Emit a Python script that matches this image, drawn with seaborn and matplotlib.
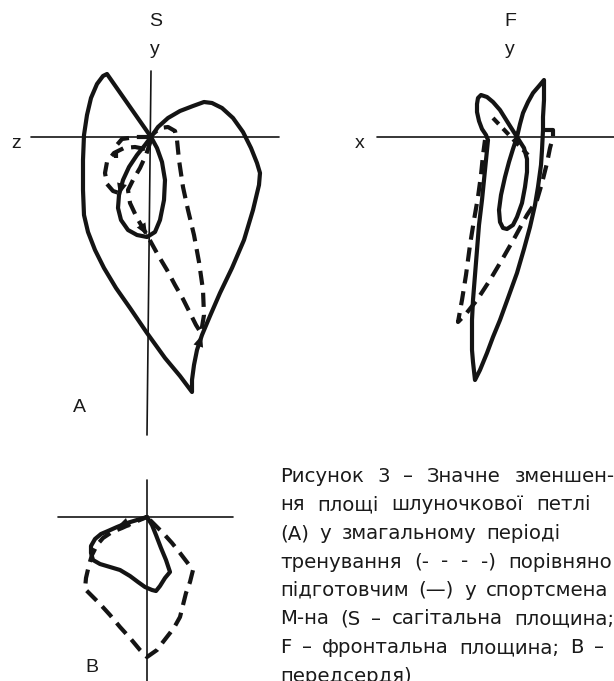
import numpy as np
import pandas as pd
import matplotlib
matplotlib.use("Agg")
import matplotlib.pyplot as plt
import seaborn as sns

# ---- loop data: (horizontal, vertical) components relative to each panel origin ----
# Sagittal plane (S), ventricular loop, preparatory period (solid)
s_solid_outer_x = [0, -44, -48, -54, -60, -64, -67, -68, -68, -67, -63, -56, -47, -35, -21, -4, 14, 29, 41,
                   41, 43, 46, 51, 59, 69, 81, 93, 102, 108, 109, 106, 100, 92, 82, 71, 61, 53, 42, 29, 17, 7, 0]
s_solid_outer_y = [0, 63, 61, 53, 39, 22, 2, -23, -53, -78, -95, -113, -131, -151, -171, -196, -221, -239, -255,
                   -243, -228, -213, -198, -179, -156, -131, -103, -73, -48, -36, -26, -11, 5, 19, 29, 34, 35, 31, 26, 19, 10, 0]
s_solid_inner_x = [0, -6, -14, -22, -28, -32, -33, -30, -23, -14, -4, 4, 9, 13, 14, 11, 6, 0]
s_solid_inner_y = [0, -8, -18, -30, -43, -58, -71, -83, -93, -98, -100, -95, -83, -63, -43, -25, -11, 0]

# Sagittal plane, competition period (dashed)
s_dash_a_x = [0, -15, -29, -35, -35]
s_dash_a_y = [0, 0, -2, -9, -21]
s_dash_b_x = [-6, -16, -27, -37, -44, -46, -44, -38, -29]
s_dash_b_y = [-12, -10, -11, -16, -25, -36, -47, -54, -57]
s_dash_c_x = [0, -5, -11, -18, -23, -21, -14, -4, 7, 16, 24, 32, 39, 45, 50,
              53, 52, 48, 43, 37, 32, 28, 26, 24, 17, 9, 2]
s_dash_c_y = [-3, -18, -31, -43, -53, -66, -81, -98, -118, -133, -148, -162, -176, -188, -196,
              -178, -153, -125, -98, -73, -50, -23, -3, 6, 10, 9, 3]

# Frontal plane (F), preparatory period (solid)
f_solid_outer_x = [0, -7, -17, -24, -30, -36, -39, -40, -40, -38, -35, -31, -29, -31, -33, -35, -38, -40, -42, -44,
                   -45, -45, -45, -44, -42, -37, -30, -24, -17, -9, 0, 7, 13, 18, 21, 24, 25, 26, 26, 27, 27,
                   22, 16, 11, 6, 3, 0]
f_solid_outer_y = [0, 11, 27, 35, 40, 42, 39, 33, 25, 16, 8, 2, -3, -23, -43, -63, -88, -113, -138, -163,
                   -183, -198, -213, -225, -243, -233, -216, -200, -183, -161, -136, -112, -90, -68, -50, -28, -13, 7, 20, 37, 57,
                   51, 44, 35, 24, 13, 0]
f_solid_inner_x = [0, -4, -8, -12, -16, -18, -17, -14, -10, -4, 0, 5, 8, 10, 10, 7, 0]
f_solid_inner_y = [0, -12, -25, -40, -58, -73, -85, -91, -92, -88, -80, -66, -50, -35, -22, -11, 0]

# Frontal plane, competition period (dashed)
f_dash_main_x = [28, 36, 36, 33, 30, 25, 20, 10, -2, -14, -27, -40, -52, -59,
                 -55, -51, -47, -43, -39, -36, -34, -32]
f_dash_main_y = [7, 7, 0, -11, -26, -46, -63, -78, -100, -121, -143, -163, -178, -185,
                 -163, -138, -108, -83, -60, -38, -18, -3]
f_dash_cross_x = [-24, 11]
f_dash_cross_y = [19, -18]

# Atrial loop (B), preparatory (solid) and competition (dashed)
b_solid_x = [0, -10, -20, -30, -39, -46, -52, -56, -56, -54, -47, -37, -27, -17, -9, -2, 5, 9, 13, 18, 23,
             19, 14, 9, 5, 0]
b_solid_y = [0, -3, -6, -10, -14, -17, -22, -29, -36, -43, -47, -50, -53, -59, -65, -70, -73, -74, -69, -61, -55,
             -43, -31, -18, -8, 0]
b_dash_x = [3, 16, 25, 33, 46, 43, 39, 36, 33, 28, 23, 16, 10, 0, -7, -17, -27, -37, -47, -62,
            -61, -58, -55, -50, -44, -35, -25, -12, 0]
b_dash_y = [-3, -16, -26, -36, -53, -65, -76, -88, -100, -109, -116, -125, -133, -140, -133, -121, -110, -98, -87, -72,
            -61, -48, -38, -28, -21, -15, -11, -5, 0]

# Coordinate axes of each panel (relative to the panel origin)
s_hline_x, s_hline_y = [-120, 128], [0, 0]
s_vline_x, s_vline_y = [0, -4], [66, -298]
f_hline_x, f_hline_y = [-140, 110], [0, 0]
b_hline_x, b_hline_y = [-89, 86], [0, 0]
b_vline_x, b_vline_y = [0, 0], [37, -170]

caption_lines = [
    "Рисунок 3 – Значне зменшен-",
    "ня площі шлуночкової петлі",
    "(А) у змагальному періоді",
    "тренування (- - - -) порівняно з",
    "підготовчим (—) у спортсмена",
    "М-на (S – сагітальна площина;",
    "F – фронтальна площина; В –",
    "передсердя)",
]
# inter-word spacing of each caption line (px), as set in the justified column
caption_gaps = [13.5, 12.7, 10.3, 12.5, 10, 11, 10.5, 10]

# ---- layout (figure pixels) ----
W, H = 614, 681
S_ORIGIN = (151, 137)
F_ORIGIN = (517, 137)
B_ORIGIN = (147, 517)

sns.set_theme(style="white")
plt.rcParams["font.family"] = ["Liberation Sans", "DejaVu Sans"]

fig = plt.figure(figsize=(W / 100, H / 100), dpi=100)
ax = fig.add_axes([0, 0, 1, 1])
ax.set_xlim(0, W)
ax.set_ylim(H, 0)
ax.set_axis_off()

LOOP_LW = 3.0
AXIS_LW = 1.2
DASH = (0, (3.4, 1.9))
INK = "#141414"


def draw(xs, ys, origin, lw=LOOP_LW, ls="-"):
    ox, oy = origin
    df = pd.DataFrame({"x": np.asarray(xs, float) + ox, "y": oy - np.asarray(ys, float)})
    sns.lineplot(data=df, x="x", y="y", sort=False, estimator=None, ax=ax,
                 color=INK, lw=lw, linestyle=ls, solid_joinstyle="round",
                 solid_capstyle="round", dash_capstyle="butt", legend=False)


# axes
draw(s_hline_x, s_hline_y, S_ORIGIN, lw=AXIS_LW)
draw(s_vline_x, s_vline_y, S_ORIGIN, lw=AXIS_LW)
draw(f_hline_x, f_hline_y, F_ORIGIN, lw=AXIS_LW)
draw(b_hline_x, b_hline_y, B_ORIGIN, lw=AXIS_LW)
draw(b_vline_x, b_vline_y, B_ORIGIN, lw=AXIS_LW)

# loops
draw(s_solid_outer_x, s_solid_outer_y, S_ORIGIN)
draw(s_solid_inner_x, s_solid_inner_y, S_ORIGIN)
draw(s_dash_a_x, s_dash_a_y, S_ORIGIN, ls=DASH)
draw(s_dash_b_x, s_dash_b_y, S_ORIGIN, ls=DASH)
draw(s_dash_c_x, s_dash_c_y, S_ORIGIN, ls=DASH)

draw(f_solid_outer_x, f_solid_outer_y, F_ORIGIN)
draw(f_solid_inner_x, f_solid_inner_y, F_ORIGIN)
draw(f_dash_main_x, f_dash_main_y, F_ORIGIN, ls=DASH)
draw(f_dash_cross_x, f_dash_cross_y, F_ORIGIN, ls=(0, (2.0, 1.5)))

draw(b_solid_x, b_solid_y, B_ORIGIN)
draw(b_dash_x, b_dash_y, B_ORIGIN, ls=DASH)


# direction arrowheads along the loops
def arrow(xs, ys, i, origin):
    ox, oy = origin
    ax.annotate("", xy=(xs[i + 1] + ox, oy - ys[i + 1]), xytext=(xs[i] + ox, oy - ys[i]),
                arrowprops=dict(arrowstyle="-|>,head_length=0.7,head_width=0.3",
                                color=INK, lw=0, shrinkA=0, shrinkB=0))


arrow(s_dash_c_x, s_dash_c_y, 6, S_ORIGIN)
arrow(s_solid_inner_x, s_solid_inner_y, 4, S_ORIGIN)
arrow(s_solid_outer_x, s_solid_outer_y, 21, S_ORIGIN)
arrow(b_solid_x, b_solid_y, 2, B_ORIGIN)

# panel labels
lab = dict(fontsize=14, color="#1a1a1a", ha="center", va="center")
ax.text(156, 22, "S", **lab)
ax.text(155, 50, "y", **lab)
ax.text(16, 143, "z", **lab)
ax.text(79, 408, "A", **lab)
ax.text(510, 22, "F", **lab)
ax.text(510, 50, "y", **lab)
ax.text(360, 143, "x", **lab)
ax.text(92, 668, "B", **lab)

# caption: words laid out one by one with the line's word spacing
renderer = fig.canvas.get_renderer()
CAP_X, CAP_Y0, CAP_LEAD = 280, 482, 28.5
for k, (line, gap) in enumerate(zip(caption_lines, caption_gaps)):
    x = CAP_X
    for word in line.split(" "):
        t = ax.text(x, CAP_Y0 + CAP_LEAD * k, word, fontsize=14.2, color="#1a1a1a",
                    ha="left", va="baseline", family=["DejaVu Sans"], clip_on=False)
        x += t.get_window_extent(renderer).width + gap

fig.savefig("out.png", dpi=100, facecolor="white")
